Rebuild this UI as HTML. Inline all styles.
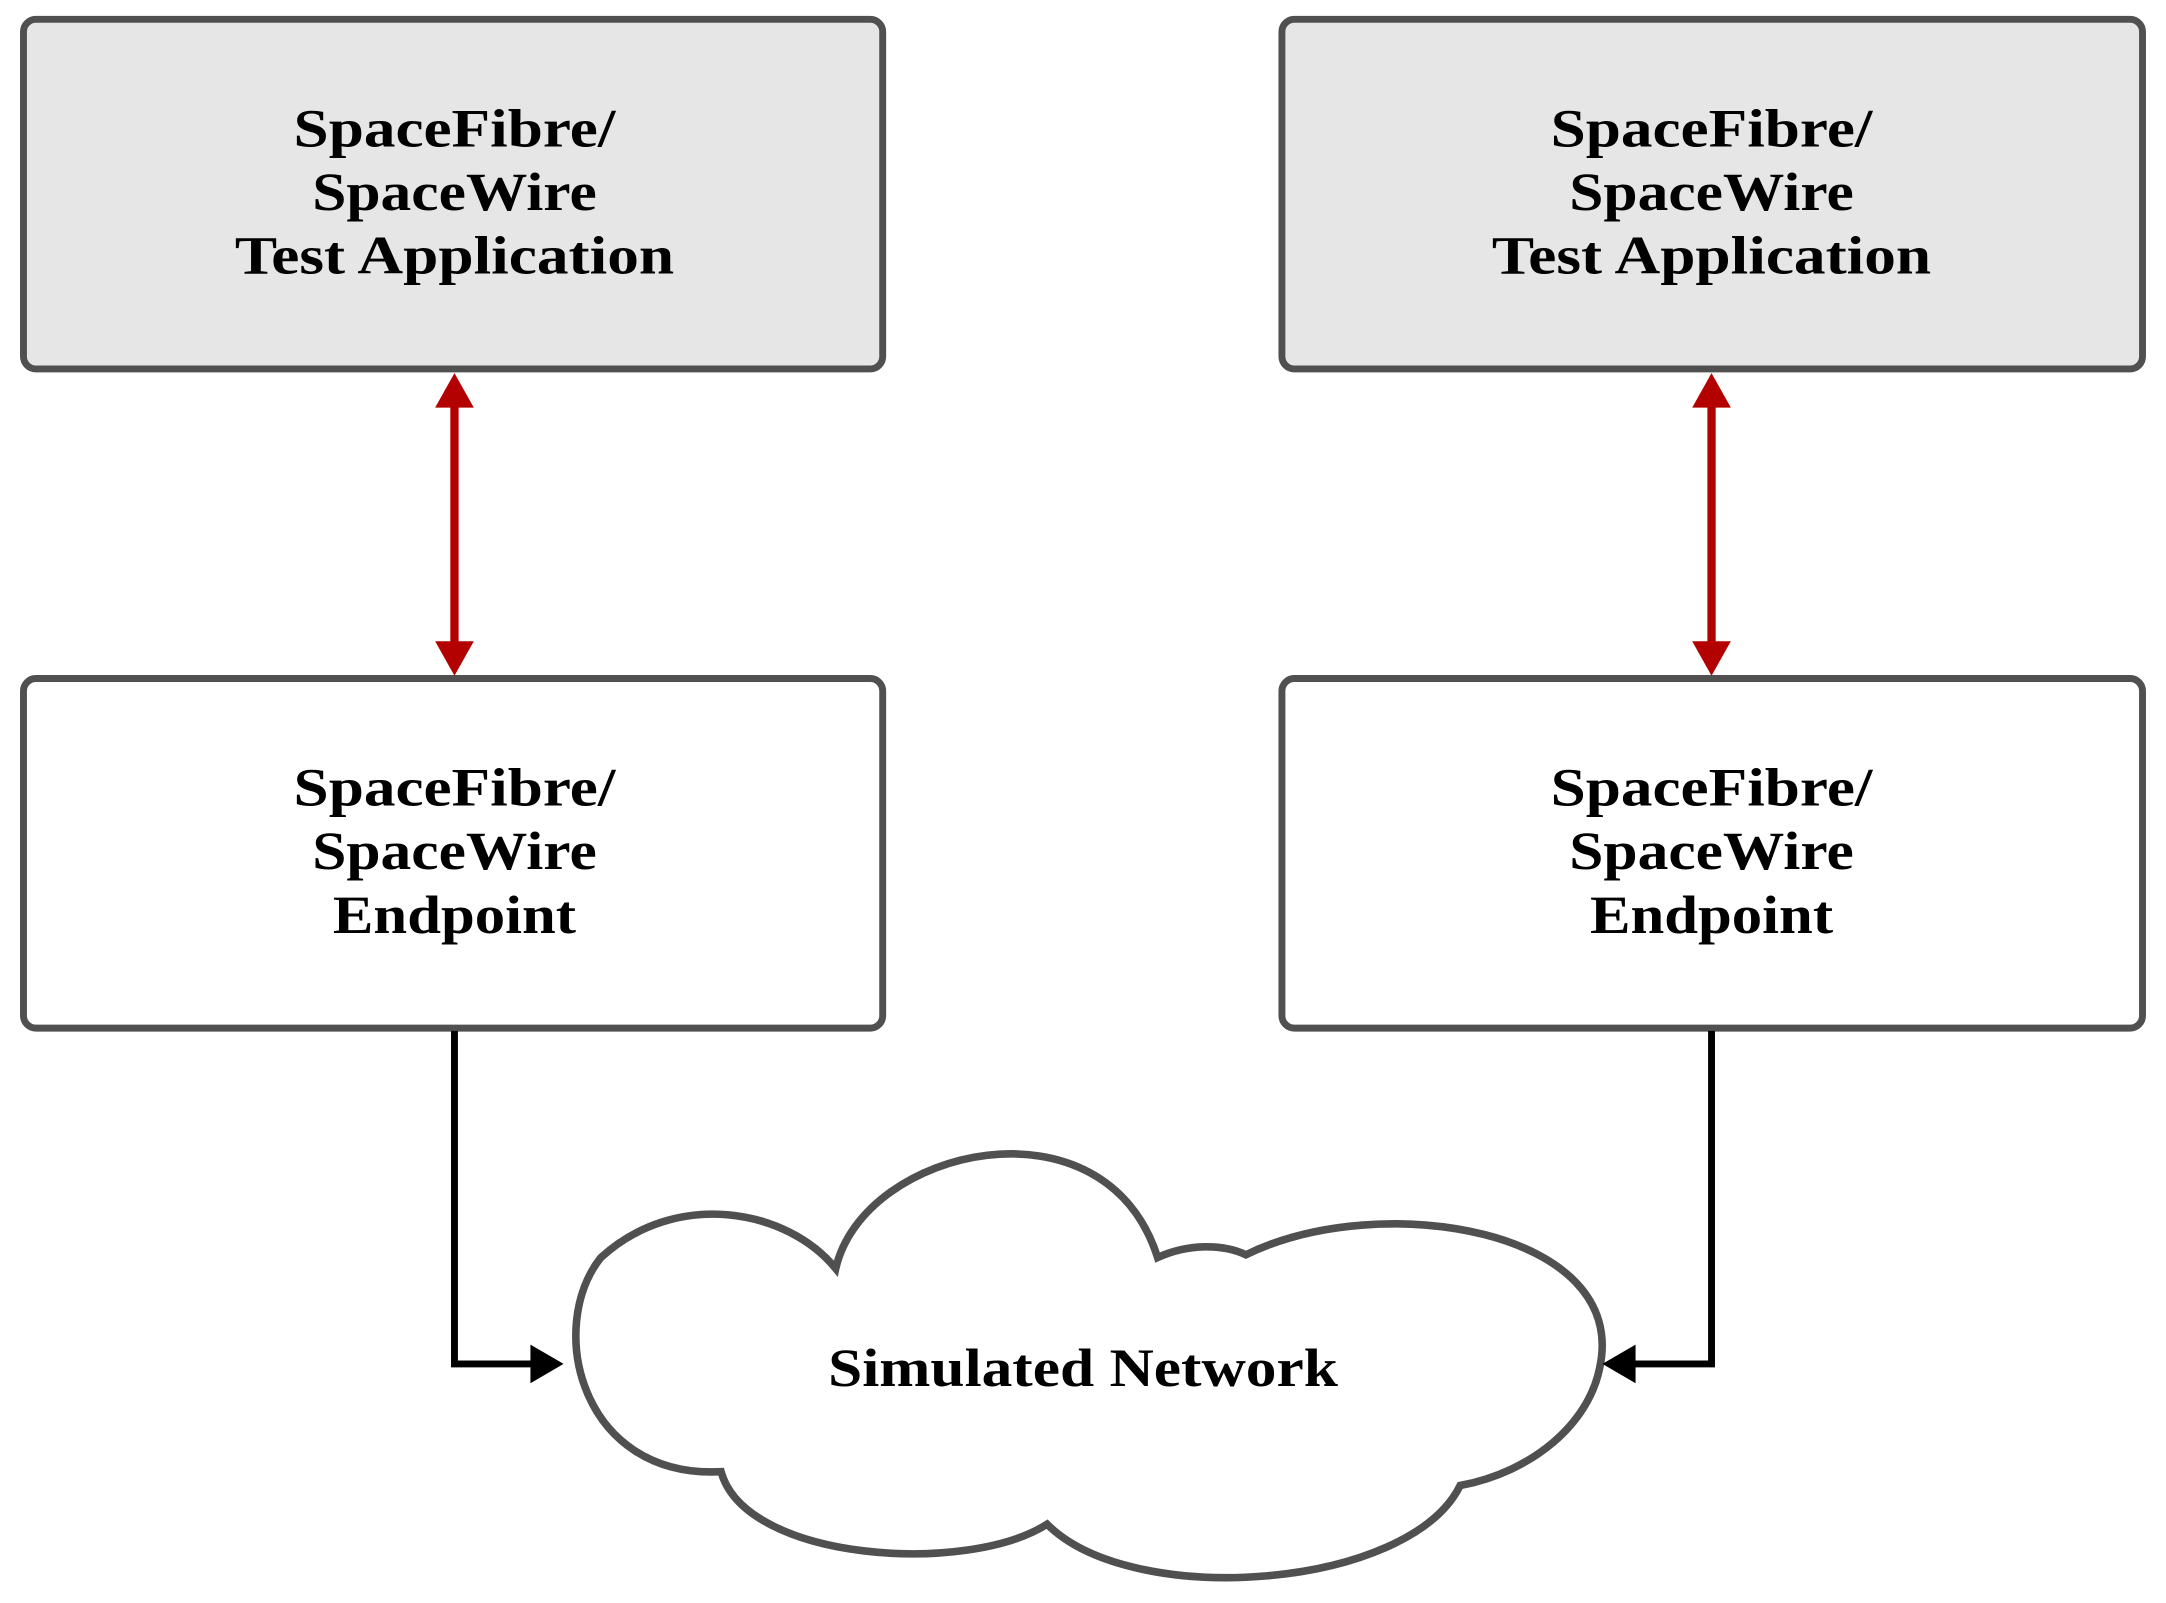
<!DOCTYPE html>
<html><head><meta charset="utf-8"><style>
html,body{margin:0;padding:0;background:#fff;}
svg{display:block;}
text{font-family:"Liberation Serif",serif;font-weight:bold;font-size:39px;fill:#000;text-anchor:middle;}
</style></head><body>
<svg width="2166" height="1603" viewBox="0 0 1568 1160" preserveAspectRatio="none" xmlns="http://www.w3.org/2000/svg">
<g stroke="#505050" stroke-width="5">
<rect x="17" y="14" width="622" height="253" rx="9" fill="#e6e6e6"/>
<rect x="928" y="14" width="623" height="253" rx="9" fill="#e6e6e6"/>
<rect x="17" y="491" width="622" height="253" rx="9" fill="#fff"/>
<rect x="928" y="491" width="623" height="253" rx="9" fill="#fff"/>
<path d="M605 918 C625 830,800 790,838 910 C860 900,885 900,902 908 C1000 860,1180 890,1158 990 C1150 1030,1110 1065,1057 1075 C1020 1150,820 1165,758 1103 C700 1140,540 1130,522 1065 C420 1070,395 960,435 910 C490 860,570 875,605 918 Z" fill="#fff" stroke-width="5.5"/>
</g>
<g stroke="#b30000" stroke-width="6">
<line x1="329" y1="292" x2="329" y2="466"/>
<line x1="1239" y1="292" x2="1239" y2="466"/>
</g>
<g fill="#b30000">
<polygon points="329,270 315,295 343,295"/>
<polygon points="329,489 315,464 343,464"/>
<polygon points="1239,270 1225,295 1253,295"/>
<polygon points="1239,489 1225,464 1253,464"/>
</g>
<g stroke="#000" stroke-width="5" fill="none">
<polyline points="329,746 329,987 386,987"/>
<polyline points="1239,746 1239,987 1182,987"/>
</g>
<polygon points="408,987 384,973 384,1001" fill="#000"/>
<polygon points="1160,987 1184,973 1184,1001" fill="#000"/>
<text x="329" y="106" textLength="233" lengthAdjust="spacingAndGlyphs">SpaceFibre/</text>
<text x="329" y="152" textLength="206" lengthAdjust="spacingAndGlyphs">SpaceWire</text>
<text x="329" y="198" textLength="318" lengthAdjust="spacingAndGlyphs">Test Application</text>
<text x="1239" y="106" textLength="233" lengthAdjust="spacingAndGlyphs">SpaceFibre/</text>
<text x="1239" y="152" textLength="206" lengthAdjust="spacingAndGlyphs">SpaceWire</text>
<text x="1239" y="198" textLength="318" lengthAdjust="spacingAndGlyphs">Test Application</text>
<text x="329" y="583" textLength="233" lengthAdjust="spacingAndGlyphs">SpaceFibre/</text>
<text x="329" y="629" textLength="206" lengthAdjust="spacingAndGlyphs">SpaceWire</text>
<text x="329" y="675" textLength="176" lengthAdjust="spacingAndGlyphs">Endpoint</text>
<text x="1239" y="583" textLength="233" lengthAdjust="spacingAndGlyphs">SpaceFibre/</text>
<text x="1239" y="629" textLength="206" lengthAdjust="spacingAndGlyphs">SpaceWire</text>
<text x="1239" y="675" textLength="176" lengthAdjust="spacingAndGlyphs">Endpoint</text>
<text x="784" y="1003" textLength="369" lengthAdjust="spacingAndGlyphs">Simulated Network</text>
</svg>
</body></html>
